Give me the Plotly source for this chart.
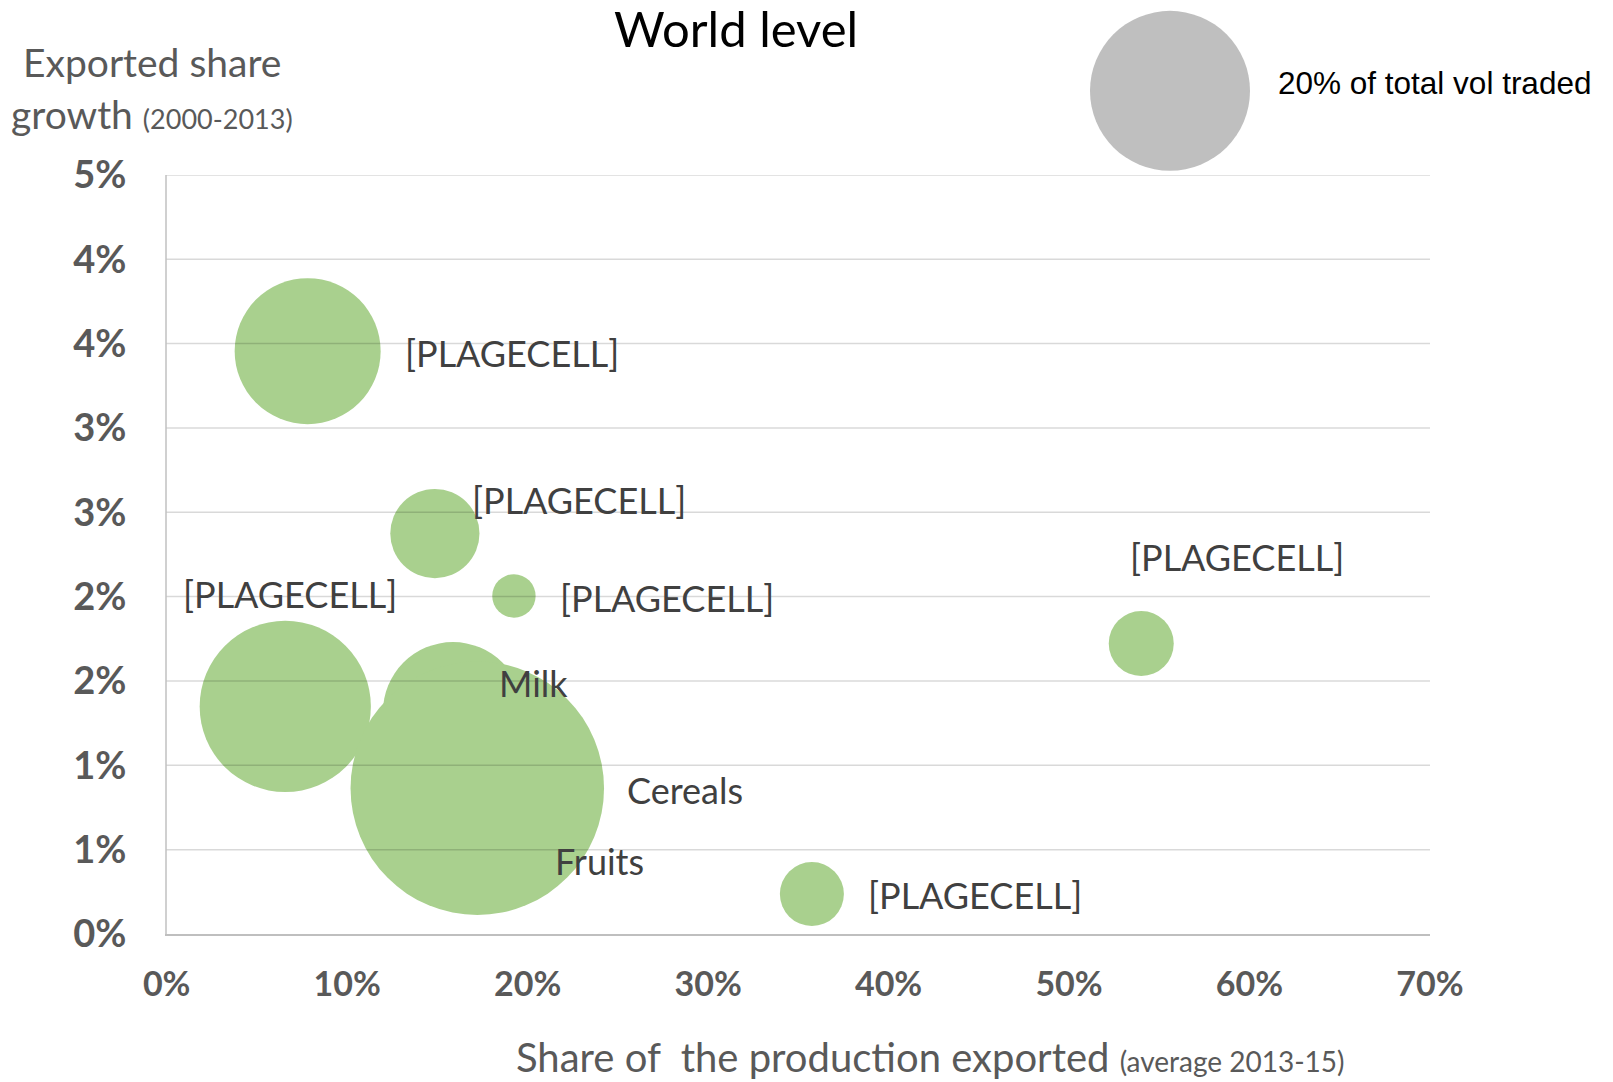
import plotly.graph_objects as go

# Share of the production exported (average 2013-15), in %
share_exported = [7.81, 14.86, 19.24, 6.57, 15.86, 17.91, 17.21, 35.75, 54.0]
# Exported share growth (2000-2013), in %
share_growth = [3.455, 2.374, 2.004, 1.349, 1.316, 0.415, 0.864, 0.237, 1.722]
# Share of the total volume traded, in %
vol_traded = [16.65, 6.22, 1.47, 22.9, 15.3, 5.0, 50.2, 3.2, 3.3]
product_labels = ["[PLAGECELL]", "[PLAGECELL]", "[PLAGECELL]", "[PLAGECELL]",
                  "Milk", "Fruits", "Cereals", "[PLAGECELL]", "[PLAGECELL]"]

legend_vol = 20
legend_text = "20% of total vol traded"

x_tickvals = [0, 10, 20, 30, 40, 50, 60, 70]
x_ticktext = ["0%", "10%", "20%", "30%", "40%", "50%", "60%", "70%"]
y_tickvals = [0, 0.5, 1.0, 1.5, 2.0, 2.5, 3.0, 3.5, 4.0, 4.5]
y_ticktext = ["0%", "1%", "1%", "2%", "2%", "3%", "3%", "4%", "4%", "5%"]

# label placement relative to each bubble centre (px): xshift, yshift, xanchor
label_offsets = [
    (95, -2, "left"),
    (35, 34, "left"),
    (44, -2, "left"),
    (5, 112, "center"),
    (44, 29, "left"),
    (63, 3, "left"),
    (148, -2, "left"),
    (54, -1, "left"),
    (-13, 87, "left"),
]

W, H = 1613, 1082
FONT = "Lato"
BUBBLE = "#A9D08E"
LEGEND_DIAM = 160  # px diameter of the legend bubble
# plotly area mode scales diameter as sqrt(2 * value / sizeref)
sizeref = 2.0 * legend_vol / LEGEND_DIAM ** 2

fig = go.Figure()

fig.add_trace(go.Scatter(
    x=share_exported, y=share_growth, mode="markers",
    marker=dict(size=vol_traded, sizemode="area", sizeref=sizeref,
                color=BUBBLE, opacity=1, line=dict(width=0)),
    cliponaxis=False, hoverinfo="skip", showlegend=False,
))

# size key above the plot
fig.add_trace(go.Scatter(
    x=[0], y=[0], xaxis="x2", yaxis="y2", mode="markers",
    marker=dict(size=[legend_vol], sizemode="area", sizeref=sizeref,
                color="#BFBFBF", opacity=1, line=dict(width=0)),
    cliponaxis=False, hoverinfo="skip", showlegend=False,
))

annotations = []
for xv, yv, txt, (dx, dy, anc) in zip(share_exported, share_growth, product_labels, label_offsets):
    annotations.append(dict(
        x=xv, y=yv, xref="x", yref="y", text=txt, showarrow=False,
        xanchor=anc, yanchor="middle", xshift=dx, yshift=dy,
        font=dict(family=FONT, size=36, color="#404040"),
    ))

annotations += [
    dict(x=736 / W, y=1 - 28 / H, xref="paper", yref="paper", text="World level",
         showarrow=False, xanchor="center", yanchor="middle", borderpad=0,
         font=dict(family=FONT, size=49, color="#000000")),
    dict(x=152 / W, y=1 - 62 / H, xref="paper", yref="paper", text="Exported share",
         showarrow=False, xanchor="center", yanchor="middle",
         font=dict(family=FONT, size=39, color="#595959")),
    dict(x=152 / W, y=1 - 114 / H, xref="paper", yref="paper",
         text="growth <span style='font-size:27px'>(2000-2013)</span>",
         showarrow=False, xanchor="center", yanchor="middle",
         font=dict(family=FONT, size=39, color="#595959")),
    dict(x=930 / W, y=1 - 1057 / H, xref="paper", yref="paper",
         text="Share of  the production exported <span style='font-size:28px'>(average 2013-15)</span>",
         showarrow=False, xanchor="center", yanchor="middle", borderpad=0,
         font=dict(family=FONT, size=40, color="#595959")),
    dict(x=1276 / W, y=1 - 83 / H, xref="paper", yref="paper", text=legend_text,
         showarrow=False, xanchor="left", yanchor="middle",
         font=dict(family="Liberation Sans", size=31.5, color="#000000")),
]

# horizontal gridlines drawn over the bubbles
shapes = [
    dict(type="line", xref="x domain", yref="y", x0=0, x1=1, y0=v, y1=v,
         line=dict(color="rgba(0,0,0,0.15)", width=1.5), layer="above")
    for v in y_tickvals[1:]
]

fig.update_layout(
    width=W, height=H,
    margin=dict(l=0, r=0, t=0, b=0, autoexpand=False),
    paper_bgcolor="white", plot_bgcolor="rgba(0,0,0,0)",
    xaxis=dict(domain=[166.7 / W, 1430 / W], range=[0, 70], tickvals=x_tickvals,
               ticktext=x_ticktext, showgrid=False, zeroline=False,
               showline=True, linecolor="#BFBFBF", linewidth=2,
               ticks="outside", ticklen=19, tickcolor="rgba(0,0,0,0)",
               tickfont=dict(family=FONT, size=34, color="#595959", weight="bold"),
               anchor="y", automargin=False),
    yaxis=dict(domain=[1 - 934 / H, 1 - 174.9 / H], range=[0, 4.5], tickvals=y_tickvals,
               ticktext=y_ticktext, showgrid=False, zeroline=False,
               showline=True, linecolor="#D0D0D0", linewidth=1.5,
               ticks="outside", ticklen=31, tickcolor="rgba(0,0,0,0)",
               tickfont=dict(family=FONT, size=38, color="#595959", weight="bold"),
               anchor="x", automargin=False),
    xaxis2=dict(domain=[1090 / W, 1250 / W], range=[-1, 1], visible=False,
                anchor="y2", automargin=False),
    yaxis2=dict(domain=[1 - 171.7 / H, 1 - 10 / H], range=[-1, 1], visible=False,
                anchor="x2", automargin=False),
    annotations=annotations,
    shapes=shapes,
)

fig.write_html("out.html")
